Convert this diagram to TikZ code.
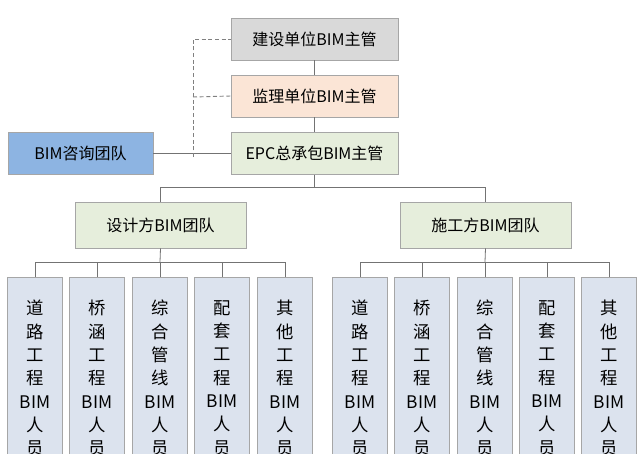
\documentclass[tikz,border=0pt]{standalone}
\usepackage{fontspec}
\newfontfamily\cjk{Noto Sans CJK SC}
\definecolor{mem}{HTML}{DCE3EE}
\definecolor{zxc}{HTML}{8DB4E2}
\definecolor{grn}{HTML}{E6EEDC}
\definecolor{jlc}{HTML}{FBE5D6}
\begin{document}
\begin{tikzpicture}[x=0.75pt,y=-0.75pt,
  box/.style={draw=black!35,line width=0.6pt,minimum width=#1*0.75pt,font=\cjk\fontsize{12}{14}\selectfont,inner sep=0pt},
  topbox/.style={box=167,minimum height=31.5pt},
  member/.style={draw=black!35,line width=0.6pt,fill=mem,minimum width=41pt,minimum height=150pt,anchor=north,inner sep=0pt},
  mtext/.style={font=\cjk\fontsize{13}{17.5}\selectfont,align=center,anchor=north,inner sep=0pt},
  conn/.style={draw=black!55,line width=0.6pt},
  dconn/.style={draw=black!50,line width=0.7pt,dash pattern=on 3pt off 2pt}]
\useasboundingbox (0,0) rectangle (640,454);
\clip (0,0) rectangle (640,454);
\fill[white] (0,0) rectangle (640,454);
\node[topbox,fill=black!15] (js) at (314.5,39) {建设单位BIM主管};
\node[topbox,fill=jlc] (jl) at (314.5,96) {监理单位BIM主管};
\node[topbox,fill=grn] (epc) at (314.5,153.5) {EPC总承包BIM主管};
\node[box=145,minimum height=31.5pt,fill=zxc] (zx) at (80.5,153.5) {BIM咨询团队};
\node[box=171,minimum height=34.5pt,fill=grn] (sj) at (160.5,225) {设计方BIM团队};
\node[box=171,minimum height=34.5pt,fill=grn] (sg) at (485.5,225) {施工方BIM团队};
\coordinate (d) at (193,157);
\draw[conn] (zx.east) -- (epc.west);
\draw[dconn] (d) |- (js.west);
\draw[dconn] (193,97) -- (jl.west);
\draw[conn] (js) -- (jl);
\draw[conn] (jl) -- (epc);
\draw[conn] (epc.south) -- ++(0,12) -| (sj.north);
\draw[conn] (epc.south) ++(0,12) -| (sg.north);
\foreach \x/\t/\n in {35/道\\路\\工\\程/a1,97/桥\\涵\\工\\程/a2,160/综\\合\\管\\线/a3,222/配\\套\\工\\程/a4,285/其\\他\\工\\程/a5,360/道\\路\\工\\程/b1,422/桥\\涵\\工\\程/b2,485/综\\合\\管\\线/b3,547/配\\套\\工\\程/b4,609/其\\他\\工\\程/b5}{
  \node[member] (\n) at (\x,277) {};
  \node[mtext] (\n t) at (\x,300) {\t\\BIM\\人\\员};
}
\foreach \g/\cx/\l/\r in {sj/160/a1/a5,sg/485/b1/b5}{
  \draw[conn] (\g.south) -- (\cx,262);
  \draw[conn] (\l.north) -- ++(0,-15) -| (\r.north);
}
\foreach \n/\cx in {a2/160,a3/160,a4/160,b2/485,b3/485,b4/485}{
  \draw[conn] (\n.north) -- ++(0,-15);
}
\end{tikzpicture}
\end{document}
